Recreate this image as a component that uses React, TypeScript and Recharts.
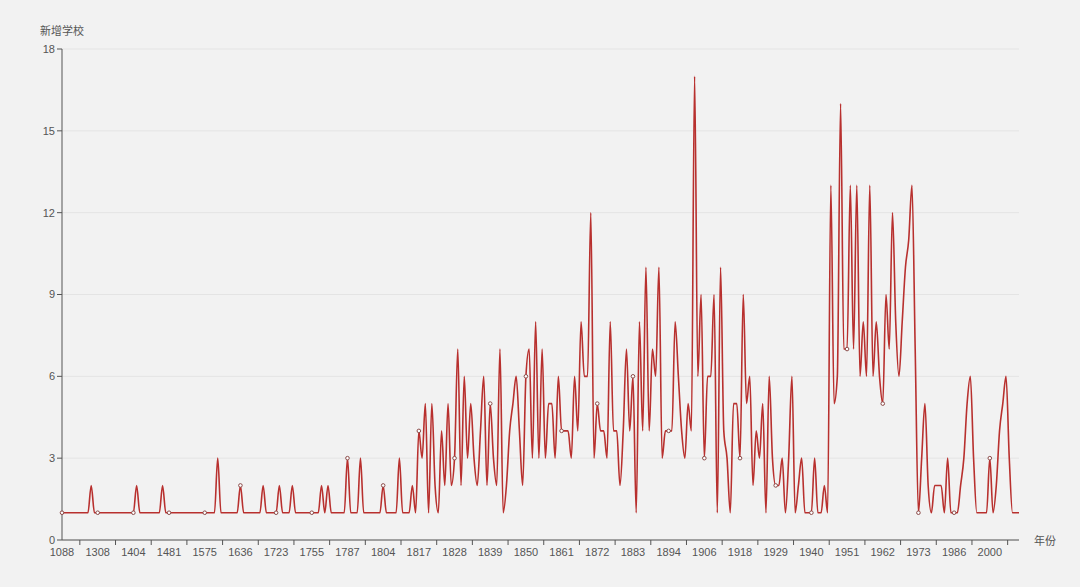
import React from "react";
import { LineChart, Line, XAxis, YAxis, CartesianGrid } from "recharts";

// 年份（类目）
const YEARS = [
  1088, 1120, 1150, 1175, 1200, 1225, 1250, 1265, 1280, 1290, 1300,
  1308, 1315, 1325, 1333, 1341, 1350, 1358, 1367, 1375, 1386, 1395,
  1404, 1410, 1418, 1425, 1432, 1440, 1447, 1455, 1462, 1468, 1475,
  1481, 1490, 1499, 1507, 1516, 1522, 1530, 1540, 1549, 1558, 1567,
  1575, 1580, 1586, 1591, 1597, 1602, 1608, 1614, 1620, 1625, 1630,
  1636, 1644, 1652, 1660, 1668, 1676, 1684, 1692, 1700, 1708, 1716,
  1723, 1726, 1729, 1732, 1735, 1738, 1741, 1744, 1747, 1750, 1753,
  1755, 1758, 1761, 1764, 1767, 1770, 1773, 1776, 1779, 1782, 1785,
  1787, 1789, 1790, 1792, 1793, 1795, 1796, 1798, 1799, 1801, 1802,
  1804, 1805, 1806, 1808, 1809, 1810, 1811, 1812, 1813, 1815, 1816,
  1817, 1818, 1819, 1820, 1821, 1822, 1823, 1824, 1825, 1826, 1827,
  1828, 1829, 1830, 1831, 1832, 1833, 1834, 1835, 1836, 1837, 1838,
  1839, 1840, 1841, 1842, 1843, 1844, 1845, 1846, 1847, 1848, 1849,
  1850, 1851, 1852, 1853, 1854, 1855, 1856, 1857, 1858, 1859, 1860,
  1861, 1862, 1863, 1864, 1865, 1866, 1867, 1868, 1869, 1870, 1871,
  1872, 1873, 1874, 1875, 1876, 1877, 1878, 1879, 1880, 1881, 1882,
  1883, 1884, 1885, 1886, 1887, 1888, 1889, 1890, 1891, 1892, 1893,
  1894, 1895, 1896, 1897, 1898, 1899, 1900, 1901, 1902, 1903, 1905,
  1906, 1907, 1908, 1909, 1910, 1911, 1912, 1913, 1914, 1915, 1917,
  1918, 1919, 1920, 1921, 1922, 1923, 1924, 1925, 1926, 1927, 1928,
  1929, 1930, 1931, 1932, 1933, 1934, 1935, 1936, 1937, 1938, 1939,
  1940, 1941, 1942, 1943, 1944, 1945, 1946, 1947, 1948, 1949, 1950,
  1951, 1952, 1953, 1954, 1955, 1956, 1957, 1958, 1959, 1960, 1961,
  1962, 1963, 1964, 1965, 1966, 1967, 1968, 1969, 1970, 1971, 1972,
  1973, 1974, 1975, 1976, 1978, 1979, 1980, 1981, 1982, 1984, 1985,
  1986, 1987, 1988, 1990, 1991, 1992, 1993, 1995, 1996, 1997, 1999,
  2000, 2001, 2002, 2003, 2004, 2005, 2006, 2007, 2008, 2010,
];

// 新增学校数
const NEW_SCHOOLS = [
  1, 1, 1, 1, 1, 1, 1, 1, 1, 2, 1,
  1, 1, 1, 1, 1, 1, 1, 1, 1, 1, 1,
  1, 2, 1, 1, 1, 1, 1, 1, 1, 2, 1,
  1, 1, 1, 1, 1, 1, 1, 1, 1, 1, 1,
  1, 1, 1, 1, 3, 1, 1, 1, 1, 1, 1,
  2, 1, 1, 1, 1, 1, 1, 2, 1, 1, 1,
  1, 2, 1, 1, 1, 2, 1, 1, 1, 1, 1,
  1, 1, 1, 2, 1, 2, 1, 1, 1, 1, 1,
  3, 1, 1, 1, 3, 1, 1, 1, 1, 1, 1,
  2, 1, 1, 1, 1, 3, 1, 1, 1, 2, 1,
  4, 3, 5, 1, 5, 2, 1, 4, 2, 5, 2,
  3, 7, 2, 6, 3, 5, 3, 2, 4, 6, 2,
  5, 3, 2, 7, 1, 2, 4, 5, 6, 4, 2,
  6, 7, 3, 8, 3, 7, 3, 5, 5, 3, 6,
  4, 4, 4, 3, 6, 4, 8, 6, 6, 12, 3,
  5, 4, 4, 3, 8, 4, 4, 2, 4, 7, 4,
  6, 1, 8, 4, 10, 4, 7, 6, 10, 3, 4,
  4, 4, 8, 6, 4, 3, 5, 4, 17, 6, 9,
  3, 6, 6, 9, 1, 10, 4, 3, 1, 5, 5,
  3, 9, 5, 6, 2, 4, 3, 5, 1, 6, 3,
  2, 2, 3, 1, 3, 6, 1, 2, 3, 1, 1,
  1, 3, 1, 1, 2, 1, 13, 5, 6, 16, 7,
  7, 13, 7, 13, 6, 8, 6, 13, 6, 8, 6,
  5, 9, 7, 12, 8, 6, 8, 10, 11, 13, 7,
  1, 3, 5, 2, 1, 2, 2, 2, 1, 3, 1,
  1, 1, 2, 3, 5, 6, 3, 1, 1, 1, 1,
  3, 1, 2, 4, 5, 6, 3, 1, 1, 1,
];

const Y_TICKS = [0, 3, 6, 9, 12, 15, 18];

const W = 1080;
const H = 587;
const LEFT = 62;
const RIGHT = 61;
const TOP = 49;
const BOTTOM = 47;
const LABEL_EVERY = 11; // 每 11 个类目显示一个年份
const RED = "#b8302e";
const AXIS = "#555";
const TEXT = "#555";
const FONT = "'Liberation Sans', 'Noto Sans CJK SC', sans-serif";

const data = YEARS.map((y, i) => ({ year: String(y), value: NEW_SCHOOLS[i] }));
const step = (W - LEFT - RIGHT) / (data.length - 1);
const axisY = H - BOTTOM;

function YearTick(props: any) {
  const { x, payload } = props;
  // 刻度线在两个标签之间
  const tx = x + (step * LABEL_EVERY) / 2;
  return (
    <g>
      <line x1={tx} x2={tx} y1={axisY} y2={axisY + 5} stroke={AXIS} />
      <text x={x} y={axisY + 16} textAnchor="middle" fontSize={11} fill={TEXT} fontFamily={FONT}>
        {payload.value}
      </text>
    </g>
  );
}

function LabelDot(props: any) {
  const { cx, cy, index } = props;
  if (index % LABEL_EVERY !== 0) return <g key={index} />;
  return <circle key={index} cx={cx} cy={cy} r={1.8} fill="#fff" stroke="#8a4a48" strokeWidth={1} />;
}

export default function App() {
  return (
    <div style={{ position: "relative", width: W, height: H, background: "#f2f2f2", fontFamily: FONT }}>
      <style>{"body{margin:0;background:#f2f2f2}"}</style>
      <div style={{ position: "absolute", left: LEFT - 40, width: 80, top: 22, textAlign: "center", fontSize: 11, color: TEXT }}>
        新增学校
      </div>
      <div style={{ position: "absolute", left: W - RIGHT + 15, top: axisY - 8, fontSize: 11, color: TEXT }}>
        年份
      </div>
      <LineChart width={W} height={H} data={data} margin={{ top: TOP, right: RIGHT, left: 0, bottom: BOTTOM - 30 }}>
        <CartesianGrid vertical={false} stroke="#e4e4e4" />
        <XAxis
          dataKey="year"
          interval={LABEL_EVERY - 1}
          height={30}
          tickLine={false}
          axisLine={{ stroke: AXIS }}
          tick={<YearTick />}
        />
        <YAxis
          type="number"
          domain={[0, 18]}
          ticks={Y_TICKS}
          interval={0}
          width={LEFT}
          tickSize={5}
          tickMargin={2}
          axisLine={{ stroke: AXIS }}
          tickLine={{ stroke: AXIS }}
          tick={{ fontSize: 11, fill: TEXT, fontFamily: FONT }}
        />
        <Line
          type="monotone"
          dataKey="value"
          stroke={RED}
          strokeWidth={1.6}
          dot={<LabelDot />}
          activeDot={false}
          isAnimationActive={false}
        />
      </LineChart>
    </div>
  );
}
